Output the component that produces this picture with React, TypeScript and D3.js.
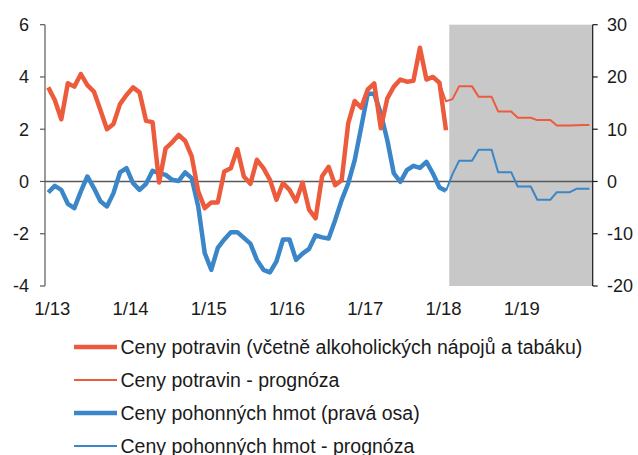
import React, { useEffect, useRef } from "react";
import * as d3 from "d3";

// months 1/13 .. 12/19
const months = d3.range(84).map((i) => `${(i % 12) + 1}/${13 + Math.floor(i / 12)}`);
const yearLabels = ["1/13", "1/14", "1/15", "1/16", "1/17", "1/18", "1/19"];
const leftTicks = [-4, -2, 0, 2, 4, 6];
const rightTicks = [-20, -10, 0, 10, 20, 30];

// food prices, left axis (1/13 .. 2/18)
const foodActual = [
  3.6, 3.12, 2.38, 3.76, 3.63, 4.11, 3.69, 3.44, 2.74, 2.0,
  2.2, 2.96, 3.31, 3.6, 3.41, 2.32, 2.27, -0.04, 1.27, 1.5,
  1.78, 1.55, 0.96, -0.38, -1.02, -0.8, -0.8, 0.38, 0.51, 1.24,
  0.19, -0.09, 0.83, 0.51, 0.06, -0.7, -0.06, -0.32, -0.76, -0.04,
  -1.08, -1.41, 0.2, 0.56, -0.14, 0.05, 2.22, 3.08, 2.82, 3.52,
  3.75, 2.04, 3.18, 3.63, 3.9, 3.82, 3.85, 5.12, 3.9, 4.0,
  3.78, 1.96,
];
// forecast from 1/18
const foodForecast = [
  3.78, 3.07, 3.15, 3.64, 3.64, 3.64, 3.24, 3.24, 3.24, 2.68, 2.68, 2.68,
  2.44, 2.44, 2.44, 2.35, 2.35, 2.35, 2.14, 2.14, 2.14, 2.15, 2.16, 2.16,
];
// fuel prices, right axis (1/13 .. 2/18)
const fuelActual = [
  -2.1, -0.83, -1.6, -4.27, -5.1, -1.9, 0.96, -1.27, -3.8, -4.78,
  -2.23, 1.72, 2.55, -0.32, -1.6, -0.45, 2.04, 1.6, 1.27, 0.32,
  0.1, 1.72, 0.64, -4.78, -13.7, -16.9, -12.7, -11.1, -9.7, -9.7,
  -10.8, -11.9, -15, -16.9, -17.4, -15.3, -11.1, -11.1, -15, -13.8,
  -12.9, -10.3, -10.7, -10.9, -7.4, -3.57, -0.38, 4.08, 10.4, 16.8,
  16.8, 13, 7.9, 1.53, -0.06, 2.17, 3.0, 2.6, 3.76, 1.53,
  -1.15, -1.78,
];
// forecast from 2/18
const fuelForecast = [
  -1.78, 1.4, 3.95, 3.95, 3.95, 6.05, 6.05, 6.05, 1.78, 1.78, 1.78, -0.96,
  -0.96, -0.96, -3.5, -3.5, -3.5, -2.04, -2.04, -2.04, -1.4, -1.4, -1.4,
];
const foodForecastStart = 60;
const fuelForecastStart = 61;
const shadeStart = 62;

const RED = "#ED5B3D";
const BLUE = "#3A86C8";
const AXIS = "#595959";
const FONT = "'Liberation Sans', Arial, sans-serif";

const legendItems = [
  { label: "Ceny potravin (včetně alkoholických nápojů a tabáku)", color: RED, w: 4.5 },
  { label: "Ceny potravin - prognóza", color: RED, w: 2 },
  { label: "Ceny pohonných hmot (pravá osa)", color: BLUE, w: 4.5 },
  { label: "Ceny pohonných hmot - prognóza", color: BLUE, w: 2 },
];

export default function App() {
  const ref = useRef<SVGSVGElement>(null);

  useEffect(() => {
    const svg = d3.select(ref.current);
    svg.selectAll("*").remove();

    const left = 45, right = 592.7, top = 24.7, bottom = 286;
    const x = d3.scaleBand().domain(months).range([left, right]);
    const cx = (i: number) => (x(months[i]) as number) + x.bandwidth() / 2;
    const yL = d3.scaleLinear().domain([-4, 6]).range([bottom, top]);
    const yR = d3.scaleLinear().domain([-20, 30]).range([bottom, top]);

    // forecast shading
    svg.append("rect")
      .attr("x", x(months[shadeStart]) as number)
      .attr("y", top)
      .attr("width", right - (x(months[shadeStart]) as number))
      .attr("height", bottom - top)
      .attr("fill", "#C8C8C8");

    // zero line
    svg.append("line")
      .attr("x1", left).attr("x2", right)
      .attr("y1", yL(0)).attr("y2", yL(0))
      .attr("stroke", AXIS).attr("stroke-width", 1.5);

    // left axis
    svg.append("line").attr("x1", left).attr("x2", left).attr("y1", top).attr("y2", bottom)
      .attr("stroke", AXIS).attr("stroke-width", 1.2);
    leftTicks.forEach((t) => {
      svg.append("line").attr("x1", left - 5).attr("x2", left).attr("y1", yL(t)).attr("y2", yL(t))
        .attr("stroke", AXIS).attr("stroke-width", 1.2);
      svg.append("text").attr("x", 29).attr("y", yL(t)).attr("dy", "0.35em")
        .attr("text-anchor", "end").attr("font-size", 18).attr("font-family", FONT)
        .attr("fill", "#1a1a1a").text(t);
    });

    // right axis
    svg.append("line").attr("x1", right).attr("x2", right).attr("y1", top).attr("y2", bottom)
      .attr("stroke", "#1a1a1a").attr("stroke-width", 1.2);
    rightTicks.forEach((t) => {
      svg.append("line").attr("x1", right).attr("x2", right + 5).attr("y1", yR(t)).attr("y2", yR(t))
        .attr("stroke", "#1a1a1a").attr("stroke-width", 1.2);
      svg.append("text").attr("x", 607).attr("y", yR(t)).attr("dy", "0.35em")
        .attr("text-anchor", "start").attr("font-size", 18).attr("font-family", FONT)
        .attr("fill", "#1a1a1a").text(t);
    });

    // x labels
    yearLabels.forEach((lab) => {
      const i = months.indexOf(lab);
      svg.append("text").attr("x", cx(i) + 4).attr("y", 309).attr("dy", "0.35em")
        .attr("text-anchor", "middle").attr("font-size", 18.5).attr("font-family", FONT)
        .attr("fill", "#1a1a1a").text(lab);
    });

    const draw = (data: number[], start: number, y: d3.ScaleLinear<number, number>, color: string, w: number) => {
      const gen = d3.line<number>().x((d, i) => cx(i + start)).y((d) => y(d));
      svg.append("path").attr("d", gen(data)).attr("fill", "none")
        .attr("stroke", color).attr("stroke-width", w).attr("stroke-linejoin", "round");
    };

    draw(foodForecast, foodForecastStart, yL, RED, 2);
    draw(fuelForecast, fuelForecastStart, yR, BLUE, 2);
    draw(fuelActual, 0, yR, BLUE, 4.5);
    draw(foodActual, 0, yL, RED, 4.5);

    // legend
    const rows = [347, 380, 413, 446];
    legendItems.forEach((item, k) => {
      svg.append("line").attr("x1", 74).attr("x2", 117).attr("y1", rows[k]).attr("y2", rows[k])
        .attr("stroke", item.color).attr("stroke-width", item.w);
      svg.append("text").attr("x", 120.5).attr("y", rows[k]).attr("dy", "0.35em")
        .attr("font-size", 19.5).attr("font-family", FONT).attr("fill", "#1a1a1a")
        .text(item.label);
    });
  }, []);

  return (
    <svg ref={ref} width={638} height={455}
      style={{ position: "absolute", left: 0, top: 0, background: "#fff" }} />
  );
}
